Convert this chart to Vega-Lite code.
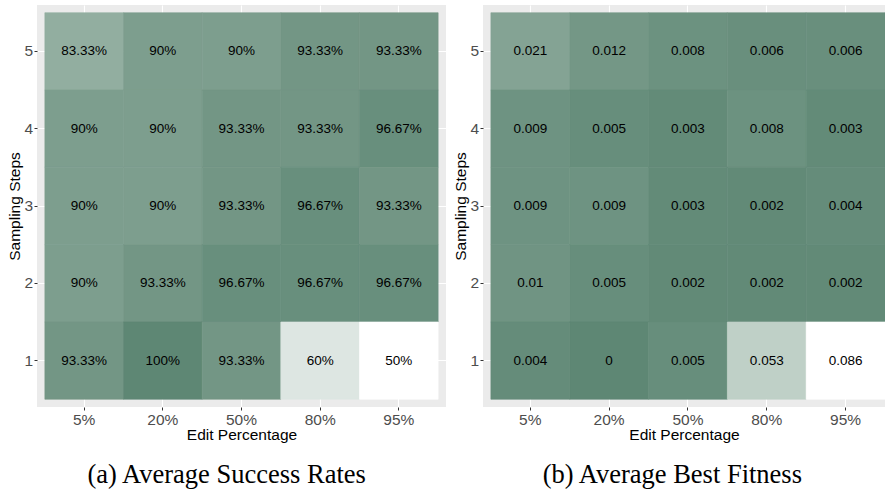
{
  "$schema": "https://vega.github.io/schema/vega-lite/v6.json",
  "background": "#FFFFFF",
  "padding": {"left": 7, "top": 5, "right": 0, "bottom": 0},
  "spacing": 7,
  "resolve": {"scale": {"color": "independent", "stroke": "independent"}},
  "datasets": {
    "success": [
      {"steps": 5, "edit": "5%", "rate": 0.8333},
      {"steps": 5, "edit": "20%", "rate": 0.9},
      {"steps": 5, "edit": "50%", "rate": 0.9},
      {"steps": 5, "edit": "80%", "rate": 0.9333},
      {"steps": 5, "edit": "95%", "rate": 0.9333},
      {"steps": 4, "edit": "5%", "rate": 0.9},
      {"steps": 4, "edit": "20%", "rate": 0.9},
      {"steps": 4, "edit": "50%", "rate": 0.9333},
      {"steps": 4, "edit": "80%", "rate": 0.9333},
      {"steps": 4, "edit": "95%", "rate": 0.9667},
      {"steps": 3, "edit": "5%", "rate": 0.9},
      {"steps": 3, "edit": "20%", "rate": 0.9},
      {"steps": 3, "edit": "50%", "rate": 0.9333},
      {"steps": 3, "edit": "80%", "rate": 0.9667},
      {"steps": 3, "edit": "95%", "rate": 0.9333},
      {"steps": 2, "edit": "5%", "rate": 0.9},
      {"steps": 2, "edit": "20%", "rate": 0.9333},
      {"steps": 2, "edit": "50%", "rate": 0.9667},
      {"steps": 2, "edit": "80%", "rate": 0.9667},
      {"steps": 2, "edit": "95%", "rate": 0.9667},
      {"steps": 1, "edit": "5%", "rate": 0.9333},
      {"steps": 1, "edit": "20%", "rate": 1.0},
      {"steps": 1, "edit": "50%", "rate": 0.9333},
      {"steps": 1, "edit": "80%", "rate": 0.6},
      {"steps": 1, "edit": "95%", "rate": 0.5}
    ],
    "fitness": [
      {"steps": 5, "edit": "5%", "fitness": 0.021},
      {"steps": 5, "edit": "20%", "fitness": 0.012},
      {"steps": 5, "edit": "50%", "fitness": 0.008},
      {"steps": 5, "edit": "80%", "fitness": 0.006},
      {"steps": 5, "edit": "95%", "fitness": 0.006},
      {"steps": 4, "edit": "5%", "fitness": 0.009},
      {"steps": 4, "edit": "20%", "fitness": 0.005},
      {"steps": 4, "edit": "50%", "fitness": 0.003},
      {"steps": 4, "edit": "80%", "fitness": 0.008},
      {"steps": 4, "edit": "95%", "fitness": 0.003},
      {"steps": 3, "edit": "5%", "fitness": 0.009},
      {"steps": 3, "edit": "20%", "fitness": 0.009},
      {"steps": 3, "edit": "50%", "fitness": 0.003},
      {"steps": 3, "edit": "80%", "fitness": 0.002},
      {"steps": 3, "edit": "95%", "fitness": 0.004},
      {"steps": 2, "edit": "5%", "fitness": 0.01},
      {"steps": 2, "edit": "20%", "fitness": 0.005},
      {"steps": 2, "edit": "50%", "fitness": 0.002},
      {"steps": 2, "edit": "80%", "fitness": 0.002},
      {"steps": 2, "edit": "95%", "fitness": 0.002},
      {"steps": 1, "edit": "5%", "fitness": 0.004},
      {"steps": 1, "edit": "20%", "fitness": 0},
      {"steps": 1, "edit": "50%", "fitness": 0.005},
      {"steps": 1, "edit": "80%", "fitness": 0.053},
      {"steps": 1, "edit": "95%", "fitness": 0.086}
    ]
  },
  "hconcat": [
    {
      "width": 409,
      "height": 402,
      "data": {"name": "success"},
      "title": {"text": "(a) Average Success Rates", "orient": "bottom", "frame": "bounds", "anchor": "middle", "offset": 19},
      "encoding": {
        "x": {
          "field": "edit", "type": "ordinal", "title": "Edit Percentage",
          "sort": ["5%", "20%", "50%", "80%", "95%"],
          "scale": {"paddingInner": 0, "paddingOuter": 0.1}
        },
        "y": {
          "field": "steps", "type": "ordinal", "title": "Sampling Steps",
          "sort": "descending",
          "scale": {"paddingInner": 0, "paddingOuter": 0.1}
        }
      },
      "layer": [
        {
          "mark": {"type": "rect", "strokeWidth": 0.6},
          "encoding": {
            "color": {
              "field": "rate", "type": "quantitative", "legend": null,
              "scale": {"domain": [0.5, 1], "range": ["#FFFFFF", "#5E8774"], "interpolate": "lab"}
            },
            "stroke": {
              "field": "rate", "type": "quantitative", "legend": null,
              "scale": {"domain": [0.5, 1], "range": ["#FFFFFF", "#5E8774"], "interpolate": "lab"}
            }
          }
        },
        {
          "mark": {"type": "text", "font": "Liberation Sans", "fontSize": 13.5, "color": "#000000"},
          "encoding": {"text": {"field": "rate", "type": "quantitative", "format": ".2~%"}}
        }
      ]
    },
    {
      "width": 402,
      "height": 402,
      "data": {"name": "fitness"},
      "title": {"text": "(b) Average Best Fitness", "orient": "bottom", "frame": "bounds", "anchor": "middle", "offset": 19, "dx": 3},
      "encoding": {
        "x": {
          "field": "edit", "type": "ordinal", "title": "Edit Percentage",
          "sort": ["5%", "20%", "50%", "80%", "95%"],
          "scale": {"paddingInner": 0, "paddingOuter": 0.05, "align": 1}
        },
        "y": {
          "field": "steps", "type": "ordinal", "title": "Sampling Steps",
          "sort": "descending",
          "scale": {"paddingInner": 0, "paddingOuter": 0.1}
        }
      },
      "layer": [
        {
          "mark": {"type": "rect", "strokeWidth": 0.6},
          "encoding": {
            "color": {
              "field": "fitness", "type": "quantitative", "legend": null,
              "scale": {"domain": [0, 0.086], "range": ["#5E8774", "#FFFFFF"], "interpolate": "lab"}
            },
            "stroke": {
              "field": "fitness", "type": "quantitative", "legend": null,
              "scale": {"domain": [0, 0.086], "range": ["#5E8774", "#FFFFFF"], "interpolate": "lab"}
            }
          }
        },
        {
          "mark": {"type": "text", "font": "Liberation Sans", "fontSize": 13.5, "color": "#000000"},
          "encoding": {"text": {"field": "fitness", "type": "quantitative", "format": ".3~f"}}
        }
      ]
    }
  ],
  "config": {
    "view": {"fill": "#EBEBEB", "stroke": null},
    "axis": {
      "zindex": 0,
      "domain": false,
      "grid": true,
      "gridColor": "#FFFFFF",
      "gridWidth": 1.1,
      "bandPosition": 0.5,
      "ticks": true,
      "tickColor": "#333333",
      "tickSize": 3,
      "labelFont": "Liberation Sans",
      "labelFontSize": 15.5,
      "labelColor": "#4D4D4D",
      "labelPadding": 2,
      "titleFont": "Liberation Sans",
      "titleFontSize": 15.5,
      "titleFontWeight": "normal",
      "titleColor": "#000000",
      "titlePadding": 0
    },
    "axisX": {"labelAngle": 0},
    "axisY": {"labelPadding": 1.5, "titlePadding": 1.5},
    "title": {"font": "Liberation Serif", "fontSize": 26.5, "fontWeight": "normal", "color": "#000000"}
  }
}
